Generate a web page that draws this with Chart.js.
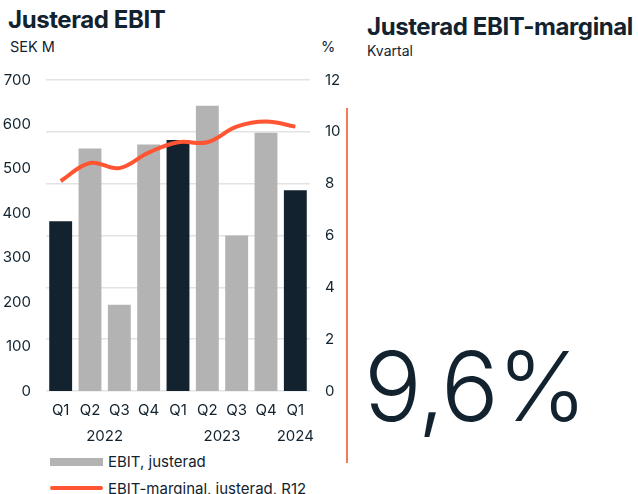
<!DOCTYPE html>
<html>
<head>
<meta charset="utf-8">
<script src="https://cdn.jsdelivr.net/npm/chart.js@4.4.1/dist/chart.umd.min.js"></script>
<style>
  html, body { margin: 0; padding: 0; background: #fff; }
  body { width: 638px; height: 494px; position: relative; overflow: hidden; font-family: Inter, "Noto Sans", sans-serif; color: #12232f; }
  .abs { position: absolute; white-space: nowrap; line-height: 1; }
  .title { font-weight: 700; font-size: 24px; letter-spacing: -0.4px; }
  .small { font-size: 14.5px; }
  .leg { font-size: 15px; }
  #chart { position: absolute; left: 0; top: 56px; }
  .swatch { position: absolute; }
</style>
</head>
<body>
<div class="abs title" style="left:8px; top:8px;">Justerad EBIT</div>
<div class="abs small" style="left:10px; top:40px;">SEK M</div>
<div class="abs small" style="left:321px; top:40px;">%</div>

<canvas id="chart" width="345" height="390"></canvas>

<div class="swatch" style="left:50px; top:458px; width:53px; height:8px; background:#b3b3b3;"></div>
<div class="abs leg" style="left:108px; top:454px;">EBIT, justerad</div>
<div class="swatch" style="left:50px; top:486px; width:53px; height:4px; border-radius:2px; background:#ff5533;"></div>
<div class="abs leg" style="left:108px; top:481px;">EBIT-marginal, justerad, R12</div>

<div class="abs title" style="left:367px; top:15px;">Justerad EBIT-marginal</div>
<div class="abs small" style="left:367px; top:44px; font-size:14px;">Kvartal</div>
<div class="swatch" style="left:346px; top:108px; width:1.5px; height:355px; background:#f47a5c;"></div>
<div class="abs" style="left:364px; top:338px; font-size:96px; font-weight:300; letter-spacing:-1.5px;">9,6%</div>

<script>
const quarters = ['Q1','Q2','Q3','Q4','Q1','Q2','Q3','Q4','Q1'];
const yearOf   = ['2022','2022','2022','2022','2023','2023','2023','2023','2024'];
const ebit     = [382, 546, 194, 555, 565, 642, 350, 581, 452];
const margin   = [8.1, 8.8, 8.6, 9.2, 9.6, 9.6, 10.2, 10.4, 10.2];

const DARK = '#12232f';
const GRAY = '#b3b3b3';
const ORANGE = '#ff5533';
const tickFont = { family: 'Inter', size: 15 };

// year labels centred under each group of quarters
const yearLabels = {
  id: 'yearLabels',
  afterDraw(chart) {
    const x = chart.scales.x;
    const ctx = chart.ctx;
    const groups = {};
    yearOf.forEach((y, i) => { (groups[y] = groups[y] || []).push(x.getPixelForValue(i)); });
    ctx.save();
    ctx.font = '15px Inter';
    ctx.fillStyle = DARK;
    ctx.textAlign = 'center';
    ctx.textBaseline = 'middle';
    Object.keys(groups).forEach(y => {
      const px = groups[y];
      ctx.fillText(y, (px[0] + px[px.length - 1]) / 2, x.bottom - 10);
    });
    ctx.restore();
  }
};

new Chart(document.getElementById('chart'), {
  data: {
    labels: quarters,
    datasets: [{
      type: 'line',
      data: margin,
      yAxisID: 'y1',
      borderColor: ORANGE,
      borderWidth: 4,
      pointRadius: 0,
      tension: 0.4,
      order: 0
    }, {
      type: 'bar',
      data: ebit,
      yAxisID: 'y',
      backgroundColor: quarters.map(q => q === 'Q1' ? DARK : GRAY),
      barPercentage: 0.78,
      categoryPercentage: 1,
      order: 1
    }]
  },
  options: {
    responsive: false,
    devicePixelRatio: 1,
    animation: false,
    layout: { padding: { top: 14, left: 0, right: 0, bottom: 0 } },
    plugins: { legend: { display: false }, tooltip: { enabled: false } },
    scales: {
      x: {
        grid: { display: false, drawTicks: false },
        border: { display: false },
        ticks: { font: tickFont, color: DARK, padding: 10, maxRotation: 0 },
        afterFit(s) { s.height = 55; }
      },
      y: {
        position: 'left',
        min: 0, max: 700,
        grid: { display: false, drawTicks: false },
        border: { display: false },
        ticks: { stepSize: 100, font: tickFont, color: DARK, padding: 15 },
        afterFit(s) { s.width = 46; }
      },
      y1: {
        position: 'right',
        min: 0, max: 12,
        grid: { color: '#e3e3e3', lineWidth: 1.5, drawTicks: false },
        border: { display: false },
        ticks: { stepSize: 2, font: tickFont, color: DARK, padding: 15 },
        afterFit(s) { s.width = 35; }
      }
    }
  },
  plugins: [yearLabels]
});
</script>
</body>
</html>
